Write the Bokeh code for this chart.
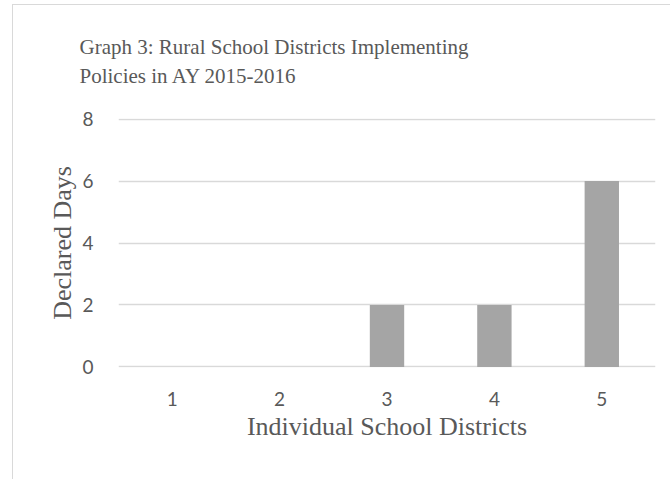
from bokeh.plotting import figure
from bokeh.models import Range1d, FactorRange, Title, SingleIntervalTicker
from bokeh.embed import file_html
from bokeh.resources import INLINE

districts = ["1", "2", "3", "4", "5"]
declared_days = [0, 0, 2, 2, 6]
title_lines = ["Graph 3: Rural School Districts Implementing", "Policies in AY 2015-2016"]
x_title = "Individual School Districts"
y_title = "Declared Days"

grid = "#d9d9d9"
# page offset of the chart box (border at left/top)
OX, OY = 13, 5
W, H = 671 - OX, 480 - OY
FL, FR, FT, FB = 118 - OX, 655 - OX, 118 - OY, 367 - OY

p = figure(width=W, height=H, title=None,
           x_range=FactorRange(*districts, range_padding=0),
           y_range=Range1d(-0.02, 8.02), output_backend="svg", toolbar_location=None,
           min_border_left=FL, min_border_right=W - FR, min_border_top=FT,
           min_border_bottom=H - FB,
           styles={"margin-left": "12px", "margin-top": "4px",
                   "border-left": "1px solid " + grid, "border-top": "1px solid " + grid})
p.outline_line_color = None
p.background_fill_color = "white"
p.border_fill_color = "white"

p.vbar(x=districts, top=declared_days, width=0.32, fill_color="#a5a5a5", line_color=None)

p.xgrid.grid_line_color = None
p.ygrid.grid_line_color = grid
p.ygrid.grid_line_width = 1.5
p.yaxis.ticker = SingleIntervalTicker(interval=2)

for ax in (p.xaxis[0], p.yaxis[0]):
    ax.axis_line_color = None
    ax.major_tick_line_color = None
    ax.minor_tick_line_color = None
    ax.major_tick_out = 0
    ax.major_tick_in = 0
    ax.major_label_text_font = "Lato"
    ax.major_label_text_font_size = "19px"
    ax.major_label_text_color = "#595959"
    ax.axis_label_text_font = "Liberation Serif"
    ax.axis_label_text_font_size = "26px"
    ax.axis_label_text_font_style = "normal"
    ax.axis_label_text_color = "#595959"

p.xaxis.axis_label = x_title
p.yaxis.axis_label = y_title
p.xaxis.major_label_standoff = 24
p.xaxis.axis_label_standoff = 3
p.yaxis.major_label_standoff = 21
p.yaxis.axis_label_standoff = 2

p.add_layout(Title(text="\n".join(title_lines), align="left", offset=79 - 118, standoff=57,
                   vertical_align="top",
                   text_font="Liberation Serif", text_font_size="21px",
                   text_line_height=1.2,
                   text_font_style="normal", text_color="#595959"), "above")

open("out.html", "w").write(file_html(p, INLINE))
